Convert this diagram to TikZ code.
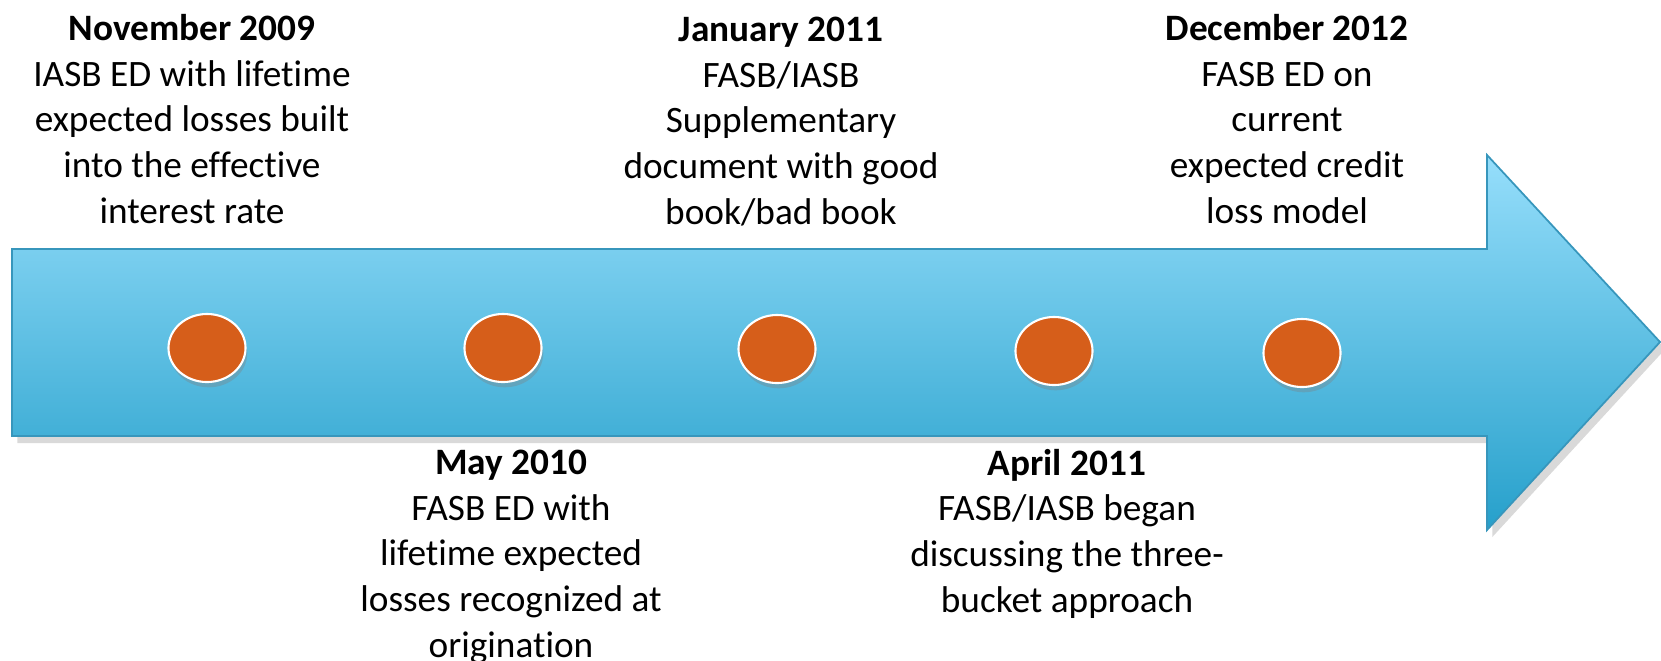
\documentclass[tikz,border=0pt]{standalone}
\usepackage{fontspec}
\setmainfont{Carlito}[Ligatures=NoCommon]
\usetikzlibrary{shadows,shapes.geometric}
\definecolor{arrowtop}{HTML}{96DEFB}
\definecolor{arrowbot}{HTML}{26A0CB}
\definecolor{arrowline}{HTML}{3796BC}
\definecolor{dotfill}{HTML}{D65E1A}
\tikzset{
  event/.style={align=center,inner sep=0pt,anchor=base,
    font=\fontsize{10.6}{12.95}\selectfont},
  dot/.style={ellipse,draw=white,line width=0.6pt,fill=dotfill,
    minimum width=0.77cm,minimum height=0.68cm,inner sep=0pt,
    drop shadow={shadow xshift=0.5pt,shadow yshift=-1.5pt,opacity=0.35}}
}
\begin{document}
\begin{tikzpicture}[x=0.01cm,y=-0.01cm]
      \useasboundingbox (0,0) rectangle (1661,660);
      % the time line
      \draw[arrowline,line width=0.5pt,top color=arrowtop,bottom color=arrowbot,
        drop shadow={shadow xshift=1.5pt,shadow yshift=-2pt,opacity=0.3}]
        (12,249) -- (1487,249) -- (1487,155) -- (1660,342)
        -- (1487,530) -- (1487,436) -- (12,436) -- cycle;
      \draw
        (207,348) node[dot] (d1){}
        (503,348) node[dot] (d2){}
        (777,349) node[dot] (d3){}
        (1054,351) node[dot] (d4){}
        (1302,353) node[dot] (d5){};
      % base anchor sits on the last line
      \begin{scope}[every node/.style=event]
        \node (nov09) at (192,223) {\textbf{November 2009}\\IASB ED with lifetime\\expected losses built\\into the effective\\interest rate};
        \node (jan11) at (781,224) {\textbf{January 2011}\\FASB/IASB\\Supplementary\\document with good\\book/bad book};
        \node (dec12) at (1287,223) {\textbf{December 2012}\\FASB ED on\\current\\expected credit\\loss model};
        \node (may10) at (511,657) {\textbf{May 2010}\\FASB ED with\\lifetime expected\\losses recognized at\\origination};
        \node (apr11) at (1067,612) {\textbf{April 2011}\\FASB/IASB began\\discussing the three-\\bucket approach};
      \end{scope}
    \end{tikzpicture}
\end{document}
